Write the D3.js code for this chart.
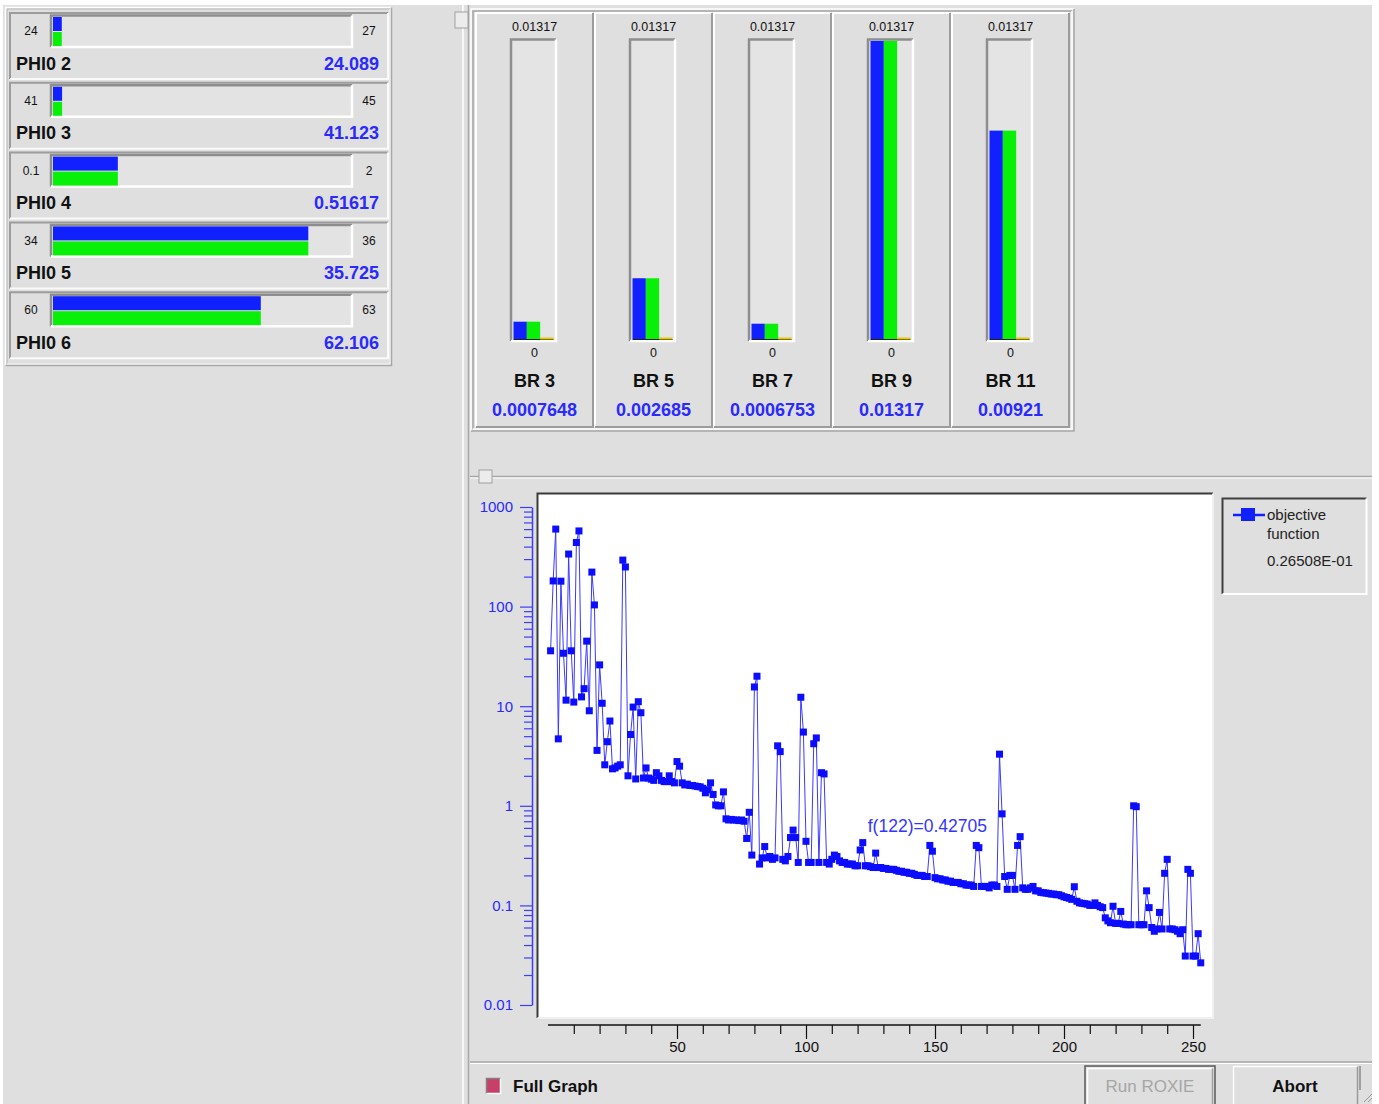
<!DOCTYPE html>
<html>
<head>
<meta charset="utf-8">
<script src="https://cdn.jsdelivr.net/npm/d3@7"></script>
<style>
  html, body { margin: 0; padding: 0; background: #fff; }
  svg { display: block; font-family: "Liberation Sans", Arial, sans-serif; }
</style>
</head>
<body>
<svg id="chart" width="1379" height="1104"></svg>
<script>
// Design variables (left panel)
const phiNames = ["PHI0 2", "PHI0 3", "PHI0 4", "PHI0 5", "PHI0 6"];
const phiMin = [24, 41, 0.1, 34, 60];
const phiMax = [27, 45, 2, 36, 63];
const phiValues = [24.089, 41.123, 0.51617, 35.725, 62.106];

// Constraint bars (top panel)
const brNames = ["BR 3", "BR 5", "BR 7", "BR 9", "BR 11"];
const brValues = [0.0007648, 0.002685, 0.0006753, 0.01317, 0.00921];
const brMax = 0.01317;

// Objective function, one value per iteration (starting at 1)
const objective = [
  36, 181, 600, 4.7, 180, 34, 11.5, 337, 36, 11,
  440, 575, 12.4, 15, 45, 9.0, 222, 104, 3.6, 26,
  10.7, 2.58, 4.4, 7.1, 2.35, 2.4, 2.5, 2.58, 293, 250,
  2.0, 5.2, 9.8, 1.86, 11.1, 8.6, 1.9, 2.4, 1.9, 1.85,
  1.8, 2.15, 2.0, 1.8, 1.75, 1.75, 2.0, 1.75, 1.7, 2.78,
  2.5, 1.7, 1.62, 1.65, 1.6, 1.6, 1.58, 1.56, 1.55, 1.5,
  1.35, 1.45, 1.7, 1.3, 1.02, 1.0, 1.0, 1.38, 0.74, 0.72,
  0.73, 0.72, 0.72, 0.71, 0.72, 0.7, 0.47, 0.86, 0.32, 15.6,
  20, 0.26, 0.30, 0.39, 0.30, 0.31, 0.29, 0.30, 4.0, 3.5,
  0.29, 0.28, 0.31, 0.48, 0.57, 0.48, 0.27, 12.3, 5.5, 0.44,
  0.27, 0.27, 4.2, 4.8, 0.27, 2.15, 2.09, 0.27, 0.26, 0.29,
  0.32, 0.31, 0.28, 0.27, 0.27, 0.26, 0.26, 0.26, 0.25, 0.25,
  0.36, 0.42705, 0.25, 0.25, 0.245, 0.24, 0.335, 0.24, 0.24, 0.235,
  0.235, 0.23, 0.23, 0.23, 0.225, 0.22, 0.22, 0.215, 0.215, 0.21,
  0.21, 0.205, 0.2, 0.2, 0.2, 0.195, 0.195, 0.40, 0.35, 0.19,
  0.185, 0.185, 0.18, 0.18, 0.175, 0.175, 0.17, 0.17, 0.17, 0.165,
  0.165, 0.16, 0.16, 0.16, 0.155, 0.40, 0.38, 0.155, 0.155, 0.155,
  0.15, 0.16, 0.16, 0.155, 3.3, 0.83, 0.195, 0.145, 0.2, 0.2,
  0.145, 0.40, 0.49, 0.15, 0.145, 0.145, 0.15, 0.155, 0.14, 0.14,
  0.135, 0.134, 0.133, 0.132, 0.13, 0.13, 0.128, 0.128, 0.125, 0.122,
  0.12, 0.118, 0.115, 0.154, 0.11, 0.106, 0.105, 0.104, 0.103, 0.1,
  0.1, 0.106, 0.1, 0.097, 0.095, 0.075, 0.07, 0.067, 0.098, 0.066,
  0.066, 0.087, 0.065, 0.064, 0.064, 0.064, 1.0, 0.98, 0.064, 0.064,
  0.064, 0.14, 0.095, 0.06, 0.055, 0.058, 0.085, 0.058, 0.21, 0.29,
  0.058, 0.058, 0.057, 0.055, 0.052, 0.057, 0.031, 0.23, 0.21, 0.031,
  0.031, 0.052, 0.026508
];
const yLabelTicks = [1000, 100, 10, 1, 0.1, 0.01];
const xLabelTicks = [50, 100, 150, 200, 250];
const markedIteration = 122;
const legendLines = ["objective", "function"];
const legendValue = "0.26508E-01";

const BG = "#dfdfdf";
const BLUE = "#1020ff";
const GREEN = "#08f008";
const TEXT_BLUE = "#2a2aff";

const svg = d3.select("#chart");

// sunken / raised frame helper
function bevel(g, x, y, w, h, tl, br, sw) {
  g.append("path").attr("d", `M${x},${y + h}V${y}H${x + w}`)
    .attr("fill", "none").attr("stroke", tl).attr("stroke-width", sw);
  g.append("path").attr("d", `M${x + w},${y}V${y + h}H${x}`)
    .attr("fill", "none").attr("stroke", br).attr("stroke-width", sw);
}

svg.append("rect").attr("x", 3).attr("y", 5).attr("width", 1369).attr("height", 1099).attr("fill", BG);

// ---------- left panel: parameter sliders ----------
const leftPanel = svg.append("g");
bevel(leftPanel, 5.5, 7.5, 386, 358, "#ffffff", "#a8a8a8", 1.5);
bevel(leftPanel, 7, 9, 383, 355, "#b8b8b8", "#f4f4f4", 1);

const rowPitch = 69.8;
phiNames.forEach((name, i) => {
  const rowTop = 13 + rowPitch * i;
  const row = leftPanel.append("g");
  bevel(row, 10, rowTop, 378, 66, "#9c9c9c", "#fafafa", 2);

  // track
  row.append("rect").attr("x", 51).attr("y", rowTop + 2).attr("width", 301).attr("height", 32).attr("fill", "#e3e3e3");
  bevel(row, 51, rowTop + 2.5, 301, 31.5, "#8e8e8e", "#ffffff", 2.5);

  const sx = d3.scaleLinear().domain([phiMin[i], phiMax[i]]).range([53, 349]);
  row.append("rect").attr("x", sx(phiMin[i])).attr("y", rowTop + 4).attr("width", sx(phiValues[i]) - sx(phiMin[i])).attr("height", 14).attr("fill", BLUE);
  row.append("rect").attr("x", sx(phiMin[i])).attr("y", rowTop + 19).attr("width", sx(phiValues[i]) - sx(phiMin[i])).attr("height", 14).attr("fill", GREEN);

  row.append("text").attr("x", 31).attr("y", rowTop + 18).attr("dy", "0.35em").attr("text-anchor", "middle")
    .style("font-size", "12px").attr("fill", "#111").text(phiMin[i]);
  row.append("text").attr("x", 369).attr("y", rowTop + 18).attr("dy", "0.35em").attr("text-anchor", "middle")
    .style("font-size", "12px").attr("fill", "#111").text(phiMax[i]);

  row.append("text").attr("x", 16).attr("y", rowTop + 56.5)
    .style("font-size", "18px").style("font-weight", "bold").attr("fill", "#111").text(name);
  row.append("text").attr("x", 379).attr("y", rowTop + 56.5).attr("text-anchor", "end")
    .style("font-size", "18px").style("font-weight", "bold").attr("fill", TEXT_BLUE).text(String(phiValues[i]));
});

// ---------- splitters ----------
svg.append("line").attr("x1", 463).attr("x2", 463).attr("y1", 5).attr("y2", 1104).attr("stroke", "#ffffff").attr("stroke-width", 1.5);
svg.append("line").attr("x1", 468.5).attr("x2", 468.5).attr("y1", 5).attr("y2", 1104).attr("stroke", "#a8a8a8").attr("stroke-width", 1.5);
svg.append("rect").attr("x", 455).attr("y", 12).attr("width", 13).attr("height", 16).attr("fill", "#ececec").attr("stroke", "#a0a0a0");

svg.append("line").attr("x1", 470).attr("x2", 1372).attr("y1", 476.5).attr("y2", 476.5).attr("stroke", "#a8a8a8").attr("stroke-width", 1.5);
svg.append("line").attr("x1", 470).attr("x2", 1372).attr("y1", 478).attr("y2", 478).attr("stroke", "#ffffff");
svg.append("rect").attr("x", 479).attr("y", 470).attr("width", 13).attr("height", 13).attr("fill", "#ececec").attr("stroke", "#a0a0a0");

// ---------- top panel: BR bars ----------
const brPanel = svg.append("g");
bevel(brPanel, 471, 9, 603, 422, "#ffffff", "#a8a8a8", 1.5);
bevel(brPanel, 473, 11, 599, 418, "#a8a8a8", "#ffffff", 1.5);

const brY = d3.scaleLinear().domain([0, brMax]).range([339, 41]);
const slots = d3.scaleBand().domain(["blue", "green", "yellow"]);

brNames.forEach((name, i) => {
  const x0 = 476 + 119 * i;
  const cx = x0 + 58.5;
  const p = brPanel.append("g");
  bevel(p, x0, 13, 117, 414, "#ffffff", "#9c9c9c", 2);

  p.append("text").attr("x", cx).attr("y", 27).attr("dy", "0.35em").attr("text-anchor", "middle")
    .style("font-size", "12.5px").attr("fill", "#111").text(String(brMax));

  // track
  p.append("rect").attr("x", x0 + 35).attr("y", 39).attr("width", 45).attr("height", 302).attr("fill", "#e4e4e4");
  bevel(p, x0 + 35, 39.5, 45, 301.5, "#8e8e8e", "#ffffff", 2.5);

  slots.range([x0 + 37.5, x0 + 77.5]);
  p.append("rect").attr("x", slots("blue")).attr("y", brY(brValues[i])).attr("width", slots.bandwidth())
    .attr("height", brY(0) - brY(brValues[i])).attr("fill", BLUE);
  p.append("rect").attr("x", slots("green")).attr("y", brY(brValues[i])).attr("width", slots.bandwidth())
    .attr("height", brY(0) - brY(brValues[i])).attr("fill", GREEN);
  p.append("line").attr("x1", x0 + 37.5).attr("x2", x0 + 77.5).attr("y1", brY(0) + 0.5).attr("y2", brY(0) + 0.5)
    .attr("stroke", "#202020");
  p.append("line").attr("x1", slots("yellow")).attr("x2", slots("yellow") + slots.bandwidth())
    .attr("y1", brY(0) - 0.5).attr("y2", brY(0) - 0.5).attr("stroke", "#e8c800").attr("stroke-width", 2);

  p.append("text").attr("x", cx).attr("y", 353).attr("dy", "0.35em").attr("text-anchor", "middle")
    .style("font-size", "12.5px").attr("fill", "#111").text("0");
  p.append("text").attr("x", cx).attr("y", 386.5).attr("text-anchor", "middle")
    .style("font-size", "18px").style("font-weight", "bold").attr("fill", "#111").text(name);
  p.append("text").attr("x", cx).attr("y", 415.5).attr("text-anchor", "middle")
    .style("font-size", "18px").style("font-weight", "bold").attr("fill", TEXT_BLUE).text(String(brValues[i]));
});

// ---------- objective function graph ----------
const x = d3.scaleLinear().domain([0, 250]).range([548, 1193]);
const y = d3.scaleLog().domain([0.01, 1000]).range([1005, 507]);

const graph = svg.append("g");
graph.append("rect").attr("x", 537).attr("y", 493).attr("width", 676).attr("height", 525).attr("fill", "#ffffff");
bevel(graph, 537.5, 493.5, 675.5, 524.5, "#3a3a3a", "#f0f0f0", 2);

// y axis (log, blue)
const isDecade = d => Math.abs(Math.log10(d) - Math.round(Math.log10(d))) < 1e-9;
const yAxis = d3.axisLeft(y)
  .tickValues(y.ticks())
  .tickSizeOuter(0)
  .tickFormat(d => isDecade(d) ? yLabelTicks.find(t => Math.abs(t - d) < t * 1e-9).toString() : "");
const yG = graph.append("g").attr("transform", "translate(532,0)").call(yAxis);
yG.select(".domain").attr("stroke", "#3c3cff").attr("stroke-width", 1.5);
yG.selectAll(".tick line").attr("stroke", "#3c3cff").attr("stroke-width", 1.2)
  .attr("x2", d => isDecade(d) ? -12 : -8);
yG.selectAll(".tick text").attr("x", -19).attr("fill", TEXT_BLUE)
  .style("font-size", "15px").style("font-family", "'Liberation Sans', Arial, sans-serif");

// x axis (black)
const xAxis = d3.axisBottom(x)
  .tickValues(d3.range(10, 251, 10))
  .tickSizeOuter(0)
  .tickFormat(d => xLabelTicks.includes(d) ? String(d) : "");
const xG = graph.append("g").attr("transform", "translate(0,1025)").call(xAxis);
xG.select(".domain").remove();
xG.append("line").attr("x1", x(0)).attr("x2", x(253)).attr("stroke", "#111").attr("stroke-width", 1.5);
xG.selectAll(".tick line").attr("stroke", "#111").attr("stroke-width", 1.2)
  .attr("y2", d => xLabelTicks.includes(d) ? 14 : 9);
xG.selectAll(".tick text").attr("y", 22).attr("dy", "0.35em").attr("fill", "#111")
  .style("font-size", "15px").style("font-family", "'Liberation Sans', Arial, sans-serif");

// series
const pts = objective.map((v, i) => ({ it: i + 1, v }));
const line = d3.line().x(d => x(d.it)).y(d => y(d.v));
graph.append("path").datum(pts).attr("d", line)
  .attr("fill", "none").attr("stroke", "#3a3aff").attr("stroke-width", 1);
graph.append("g").selectAll("rect").data(pts).join("rect")
  .attr("x", d => x(d.it) - 3.5).attr("y", d => y(d.v) - 3.5)
  .attr("width", 7).attr("height", 7).attr("fill", "#0c0cff");

// marked point label
const mv = objective[markedIteration - 1];
graph.append("text").attr("x", x(markedIteration) + 5).attr("y", y(mv) - 11)
  .attr("fill", "#3535ff").style("font-size", "17.5px")
  .text(`f(${markedIteration})=${mv}`);

// legend
const lg = svg.append("g");
bevel(lg, 1222.5, 498.5, 144, 95.5, "#404040", "#ffffff", 2);
lg.append("line").attr("x1", 1233).attr("x2", 1265).attr("y1", 515).attr("y2", 515).attr("stroke", BLUE).attr("stroke-width", 2.5);
lg.append("rect").attr("x", 1241).attr("y", 508).attr("width", 14).attr("height", 13).attr("fill", BLUE);
legendLines.forEach((t, i) => {
  lg.append("text").attr("x", 1267).attr("y", 520 + 18.5 * i).style("font-size", "15px").attr("fill", "#222").text(t);
});
lg.append("text").attr("x", 1267).attr("y", 566).style("font-size", "15px").attr("fill", "#222").text(legendValue);

// ---------- bottom toolbar ----------
const toolbar = svg.append("g");
toolbar.append("line").attr("x1", 470).attr("x2", 1372).attr("y1", 1062).attr("y2", 1062).attr("stroke", "#a8a8a8").attr("stroke-width", 1.5);
toolbar.append("line").attr("x1", 470).attr("x2", 1372).attr("y1", 1063.5).attr("y2", 1063.5).attr("stroke", "#ffffff");
toolbar.append("rect").attr("x", 487).attr("y", 1079).attr("width", 13).attr("height", 14).attr("fill", "#c8406a");
bevel(toolbar, 486.5, 1078.5, 14, 15, "#808080", "#ffffff", 1.5);
toolbar.append("text").attr("x", 513).attr("y", 1086).attr("dy", "0.35em")
  .style("font-size", "17px").style("font-weight", "bold").attr("fill", "#111").text("Full Graph");

toolbar.append("rect").attr("x", 1085).attr("y", 1066).attr("width", 130).attr("height", 40).attr("fill", BG)
  .attr("stroke", "#5a5a5a").attr("stroke-width", 1.5);
bevel(toolbar, 1087.5, 1068.5, 125, 40, "#ffffff", "#a0a0a0", 1.5);
toolbar.append("text").attr("x", 1150).attr("y", 1086).attr("dy", "0.35em").attr("text-anchor", "middle")
  .style("font-size", "17px").attr("fill", "#a6a6a6").text("Run ROXIE");

bevel(toolbar, 1233.5, 1066.5, 124, 40, "#ffffff", "#9a9a9a", 1.5);
toolbar.append("text").attr("x", 1295).attr("y", 1086).attr("dy", "0.35em").attr("text-anchor", "middle")
  .style("font-size", "17px").style("font-weight", "bold").attr("fill", "#111").text("Abort");
toolbar.append("line").attr("x1", 1360).attr("x2", 1360).attr("y1", 1066).attr("y2", 1090).attr("stroke", "#8a8a8a").attr("stroke-width", 1.5);
toolbar.append("line").attr("x1", 1364).attr("x2", 1372).attr("y1", 1102).attr("y2", 1094).attr("stroke", "#9a9a9a");
toolbar.append("line").attr("x1", 1368).attr("x2", 1372).attr("y1", 1102).attr("y2", 1098).attr("stroke", "#9a9a9a");
</script>
</body>
</html>
